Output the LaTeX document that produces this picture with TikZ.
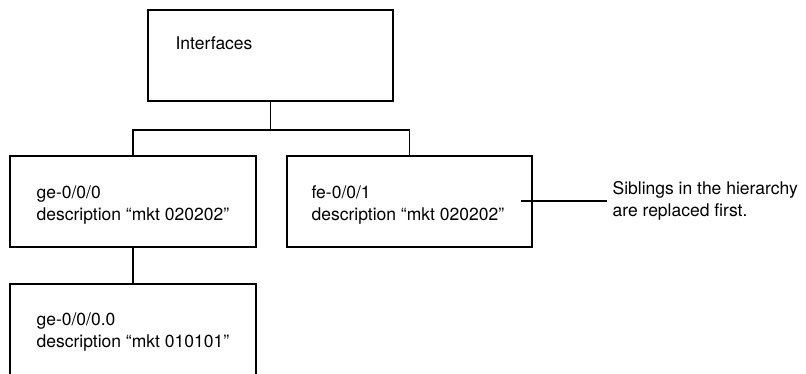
\documentclass[tikz,border=0pt]{standalone}
\usepackage{fontspec}
\setmainfont{TeX Gyre Heros}
\usepackage{tikz}
\usetikzlibrary{positioning}
\tikzstyle{box} = [draw, rectangle, line width=1.2pt, inner sep=0pt]
\tikzstyle{txt} = [inner sep=0pt, align=left, font=\fontsize{17.5}{22}\selectfont]

\begin{document}
\begin{tikzpicture}[x=1pt,y=-1pt,line width=1.2pt]
            \useasboundingbox (0,0) rectangle (806,373);
            \clip (0,0) rectangle (806,373);

            % boxes of the hierarchy
            \node[box, minimum width=245pt, minimum height=91pt] (ifs) at (270.5,55.5) {};
            \node[box, minimum width=246pt, minimum height=91pt] (ge0) at (133,201.5) {};
            \node[box, minimum width=245pt, minimum height=91pt] (fe1) at (409.5,201.5) {};
            \node[box, minimum width=246pt, minimum height=110pt] (ge00) at (133,339) {};

            % texts in the boxes (base = last line)
            \node[txt, anchor=base west] (ifstxt) at (175,49) {Interfaces};
            \node[txt, anchor=base west] (ge0txt) at (36,220) {ge-0/0/0\\description “mkt 020202”};
            \node[txt, anchor=base west] (fe1txt) at (311,220) {fe-0/0/1\\description “mkt 020202”};
            \node[txt, anchor=base west] (ge00txt) at (36,347) {ge-0/0/0.0\\description “mkt 010101”};

            % tree lines
            \coordinate (bar) at (270.5,130);
            \draw (ifs.south) -- (bar);
            \draw (ge0.north) |- (bar) -| (fe1.north);
            \draw (ge0.south) -- (ge00.north);

            % note on the siblings
            \coordinate (tip) at (521,201);
            \node[txt, anchor=west, inner xsep=5pt] (sib) at (607,201) {Siblings in the hierarchy\\are replaced first.};
            \draw (tip) -- (sib.west);
        \end{tikzpicture}
\end{document}
